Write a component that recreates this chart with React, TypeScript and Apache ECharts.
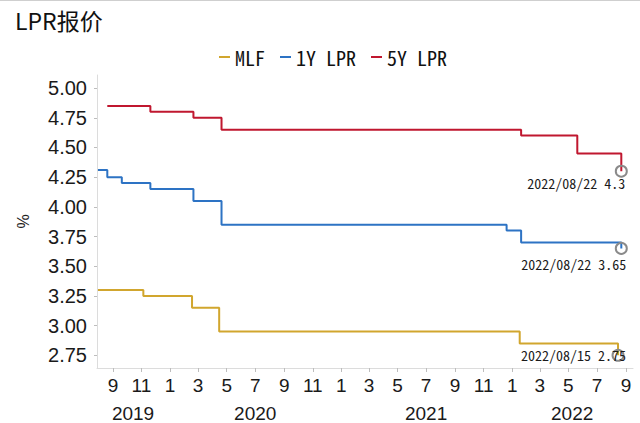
import React, { useEffect, useRef } from 'react';
import * as echarts from 'echarts';

// ---- data ----
const mlfDates = ['2019-07-31', '2019-11-05', '2020-02-17', '2020-04-15', '2022-01-17', '2022-08-15'];
const mlfValues = [3.3, 3.25, 3.15, 2.95, 2.85, 2.75];

const lpr1yDates = ['2019-07-31', '2019-08-20', '2019-09-20', '2019-11-20', '2020-02-20', '2020-04-20', '2021-12-20', '2022-01-20', '2022-08-22'];
const lpr1yValues = [4.31, 4.25, 4.2, 4.15, 4.05, 3.85, 3.8, 3.7, 3.65];

const lpr5yDates = ['2019-08-20', '2019-11-20', '2020-02-20', '2020-04-20', '2022-01-20', '2022-05-20', '2022-08-22'];
const lpr5yValues = [4.85, 4.8, 4.75, 4.65, 4.6, 4.45, 4.3];

const seriesNames = ['MLF', '1Y LPR', '5Y LPR'];

const monthTicks = [
  '2019-09-01', '2019-11-01', '2020-01-01', '2020-03-01', '2020-05-01', '2020-07-01', '2020-09-01', '2020-11-01',
  '2021-01-01', '2021-03-01', '2021-05-01', '2021-07-01', '2021-09-01', '2021-11-01',
  '2022-01-01', '2022-03-01', '2022-05-01', '2022-07-01', '2022-09-01',
];
const yearLabels = ['2019', '2020', '2021', '2022'];
const yearLabelDates = ['2019-10-14', '2020-07-01', '2021-07-01', '2022-05-09'];
const yTicks = [2.75, 3.0, 3.25, 3.5, 3.75, 4.0, 4.25, 4.5, 4.75, 5.0];

const X_MIN = '2019-07-29';
const X_MAX = '2022-09-16';
const Y_MIN = 2.643;
const Y_MAX = 5.11;

// ---- styles ----
const CJK_MONO = '"Noto Sans Mono CJK SC", "Noto Sans CJK SC", "DejaVu Sans Mono", monospace';
const CJK = '"Noto Sans CJK SC", "Noto Sans", sans-serif';
const SANS = '"Liberation Sans", Arial, sans-serif';
const COLORS = ['#D1A62E', '#2D73C4', '#C0172F'];
const LABEL_OFFSETS: [number, number][] = [[8, 0], [5, 16], [4, 12]];

function toTs(s: string): number {
  const [y, m, d] = s.split('-').map(Number);
  return Date.UTC(y, m - 1, d);
}

function buildData(dates: string[], values: number[], idx: number) {
  return dates.map((d, i) => {
    if (i < dates.length - 1) return [toTs(d), values[i]];
    return {
      value: [toTs(d), values[i]],
      symbol: 'circle',
      symbolSize: 11,
      itemStyle: { color: 'rgba(0,0,0,0)', borderColor: '#8a8a8a', borderWidth: 2 },
      label: {
        show: true,
        position: 'inside',
        align: 'right',
        verticalAlign: 'middle',
        offset: LABEL_OFFSETS[idx],
        formatter: `${d.replace(/-/g, '/')} ${values[i]}`,
        color: '#1a1a1a',
        fontSize: 14,
        fontFamily: CJK_MONO,
      },
    };
  });
}

export default function App() {
  const ref = useRef<HTMLDivElement>(null);
  useEffect(() => {
    if (!ref.current) return;
    const chart = echarts.init(ref.current, null, { renderer: 'svg' });
    const allDates = [mlfDates, lpr1yDates, lpr5yDates];
    const allValues = [mlfValues, lpr1yValues, lpr5yValues];
    const yearTs = yearLabelDates.map(toTs);
    chart.setOption({
      animation: false,
      backgroundColor: '#ffffff',
      title: {
        text: 'LPR报价',
        left: 10,
        top: 3,
        textStyle: { fontSize: 23, fontWeight: 'normal', color: '#111', fontFamily: CJK },
      },
      legend: {
        data: seriesNames,
        left: 214,
        top: 42,
        icon: 'rect',
        itemWidth: 11,
        itemHeight: 2,
        itemGap: 15,
        textStyle: { fontSize: 20, color: '#111', fontFamily: CJK_MONO },
      },
      graphic: [
        { type: 'line', shape: { x1: 0, y1: 0.5, x2: 640, y2: 0.5 }, style: { stroke: '#cfcfcf', lineWidth: 1 } },
      ],
      grid: { left: 97, right: 7, top: 75, bottom: 55 },
      xAxis: [
        {
          type: 'value',
          min: toTs(X_MIN),
          max: toTs(X_MAX),
          axisLine: { show: true, lineStyle: { color: '#dcdcdc', width: 1 } },
          axisTick: {
            show: true,
            length: 4,
            lineStyle: { color: '#bdbdbd' },
            customValues: monthTicks.map(toTs),
          },
          axisLabel: {
            customValues: monthTicks.map(toTs),
            formatter: (v: number) => String(new Date(v).getUTCMonth() + 1),
            fontSize: 19,
            color: '#1a1a1a',
            fontFamily: SANS,
            margin: 8,
          },
          splitLine: { show: false },
        },
        {
          type: 'value',
          position: 'bottom',
          offset: 28,
          min: toTs(X_MIN),
          max: toTs(X_MAX),
          axisLine: { show: false },
          axisTick: { show: false },
          axisLabel: {
            customValues: yearTs,
            formatter: (v: number) => {
              const i = yearTs.indexOf(v);
              return i >= 0 ? yearLabels[i] : '';
            },
            fontSize: 19,
            color: '#1a1a1a',
            fontFamily: SANS,
            margin: 8,
          },
          splitLine: { show: false },
        },
      ],
      yAxis: {
        type: 'value',
        min: Y_MIN,
        max: Y_MAX,
        name: '%',
        nameLocation: 'middle',
        nameGap: 66,
        nameTextStyle: { fontSize: 16, color: '#222', fontFamily: SANS },
        axisLine: { show: true, lineStyle: { color: '#dcdcdc', width: 1 } },
        axisTick: { show: true, length: 3, lineStyle: { color: '#bdbdbd' }, customValues: yTicks },
        axisLabel: {
          customValues: yTicks,
          formatter: (v: number) => v.toFixed(2),
          fontSize: 20,
          color: '#1a1a1a',
          fontFamily: SANS,
          margin: 10,
        },
        splitLine: { show: false },
      },
      series: seriesNames.map((name, idx) => ({
        name,
        type: 'line',
        step: 'end',
        symbol: 'none',
        color: COLORS[idx],
        lineStyle: { color: COLORS[idx], width: 2 },
        data: buildData(allDates[idx], allValues[idx], idx),
        z: 2 + idx,
      })),
    });
    return () => chart.dispose();
  }, []);
  return <div ref={ref} style={{ position: 'absolute', left: 0, top: 0, width: 640, height: 423 }} />;
}
